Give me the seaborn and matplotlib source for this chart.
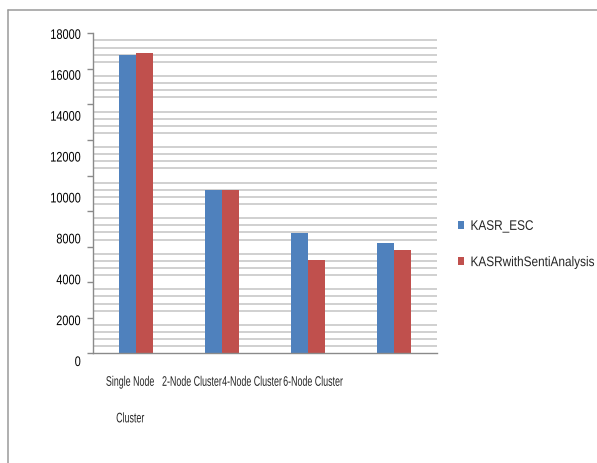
import numpy as np
import pandas as pd
import matplotlib
matplotlib.use("Agg")
import matplotlib.pyplot as plt
from matplotlib.lines import Line2D
from matplotlib.patheffects import AbstractPathEffect
from matplotlib.transforms import Affine2D
import seaborn as sns

# Execution time per cluster configuration
categories = ["Single Node", "2-Node Cluster", "4-Node Cluster", "6-Node Cluster"]
kasr_esc = [16780, 9160, 6790, 6200]
kasr_senti = [16890, 9160, 5230, 5810]
series_names = ["KASR_ESC", "KASRwithSentiAnalysis"]

# Axis annotation text
x_tick_labels = ["Single Node\nCluster", "2-Node Cluster", "4-Node Cluster", "6-Node Cluster"]
y_tick_labels = ["0", "2000", "4000", "8000", "10000", "12000", "14000", "16000", "18000"]


class Squeeze(AbstractPathEffect):
    """Narrow glyph outlines horizontally about the left, centre or right of each line."""

    def __init__(self, sx, anchor="left"):
        super().__init__()
        self.sx = sx
        self.anchor = anchor

    def draw_path(self, renderer, gc, tpath, affine, rgbFace=None):
        ext = tpath.get_extents()
        cx = {"left": 0.0, "center": (ext.x0 + ext.x1) / 2, "right": ext.x1}[self.anchor]
        t = Affine2D().translate(-cx, 0).scale(self.sx, 1).translate(cx, 0) + affine
        renderer.draw_path(gc, tpath, t, rgbFace)


df = pd.DataFrame({
    "Configuration": categories * 2,
    "Series": [series_names[0]] * len(categories) + [series_names[1]] * len(categories),
    "Time": kasr_esc + kasr_senti,
})

sns.set_theme(style="white")
plt.rcParams["font.family"] = ["Liberation Sans", "DejaVu Sans"]
fs = 10

fig = plt.figure(figsize=(5.97, 4.63), dpi=100)
ax = fig.add_axes([93.3 / 597, 1 - 353.3 / 463, 343.4 / 597, 320 / 463])

palette = {series_names[0]: "#4F81BD", series_names[1]: "#C0504D"}
sns.barplot(data=df, x="Configuration", y="Time", hue="Series", order=categories,
            hue_order=series_names, palette=palette, width=0.4, saturation=1,
            edgecolor="none", ax=ax)

ax.set_xlim(-0.5, 3.5)
ax.set_ylim(0, 18000)
ax.set_xlabel("")
ax.set_ylabel("")

# Light minor grid every 400, skipping the 2000 steps
minor = [v for v in np.arange(400, 18000, 400) if v % 2000 != 0]
ax.set_yticks(minor, minor=True)
ax.grid(False)
ax.grid(True, which="minor", axis="y", color="#c4c4c4", linewidth=1.1)
ax.set_axisbelow(True)

ax.set_yticks(np.arange(0, 18001, 2000))
ax.set_yticklabels([])
ax.tick_params(axis="y", which="major", direction="out", length=4, width=1, color="#8a8a8a", left=True)
ax.tick_params(axis="y", which="minor", length=0)

# Y labels, spread evenly along the axis
ytr = ax.get_yaxis_transform()
for pos, lab in zip(np.linspace(-490, 17910, len(y_tick_labels)), y_tick_labels):
    ax.text(-0.036, pos, lab, transform=ytr, ha="right", va="center", fontsize=fs,
            color="#000000", path_effects=[Squeeze(0.79, "right")])

# Category labels
ax.set_xticks([-0.07, 0.65, 1.35, 2.06])
ax.set_xticklabels(x_tick_labels, fontsize=fs, linespacing=3.05)
for t in ax.get_xticklabels():
    t.set_path_effects([Squeeze(0.64, "center")])
ax.tick_params(axis="x", length=0, pad=15.5)

for side in ["top", "right"]:
    ax.spines[side].set_visible(False)
for side in ["left", "bottom"]:
    ax.spines[side].set_color("#8a8a8a")
    ax.spines[side].set_linewidth(1.0)

leg = ax.legend(loc="center left", bbox_to_anchor=(458 / 597, 1 - 244 / 463),
                bbox_transform=fig.transFigure, frameon=False, fontsize=fs,
                handlelength=0.45, handleheight=0.5, handletextpad=0.45,
                labelspacing=1.6, borderpad=0, borderaxespad=0)
for t in leg.get_texts():
    t.set_path_effects([Squeeze(0.85, "left")])

# Chart area border (top and left edges)
fig.add_artist(Line2D([8 / 597, 8 / 597], [0, 1 - 10 / 463], transform=fig.transFigure,
                      color="#9a9a9a", linewidth=1.1))
fig.add_artist(Line2D([8 / 597, 1], [1 - 10 / 463, 1 - 10 / 463], transform=fig.transFigure,
                      color="#9a9a9a", linewidth=1.1))

fig.savefig("out.png", dpi=100, facecolor="white")
